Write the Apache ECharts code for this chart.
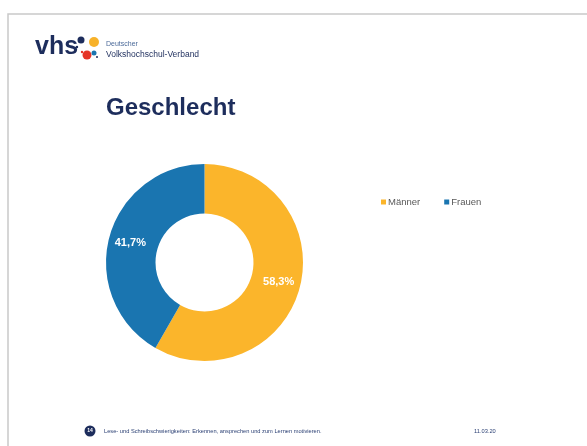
<!DOCTYPE html>
<html>
<head>
  <meta charset="utf-8">
  <title>Geschlecht</title>
  <script src="https://cdn.jsdelivr.net/npm/echarts@6/dist/echarts.min.js"></script>
  <style>
    html, body { margin: 0; padding: 0; background: #fff; }
  </style>
</head>
<body>
  <div id="main" style="width:587px;height:446px;"></div>
  <script type="text/javascript">
    var categories = ['Männer', 'Frauen'];
    var values = [58.3, 41.7];
    var colors = ['#FBB52B', '#1A75B0'];
    var footerText = 'Lese- und Schreibschwierigkeiten: Erkennen, ansprechen und zum Lernen motivieren.';
    var footerDate = '11.03.20';
    var pageNo = '14';

    var navy = '#1d2d5c';
    var myChart = echarts.init(document.getElementById('main'));

    var data = categories.map(function (name, i) {
      return { name: name, value: values[i], itemStyle: { color: colors[i] } };
    });

    var option = {
      backgroundColor: '#fff',
      animation: false,
      title: {
        text: 'Geschlecht',
        left: 106,
        top: 96,
        padding: 0,
        textStyle: {
          fontFamily: 'Liberation Sans, Arial, sans-serif',
          fontSize: 24,
          fontWeight: 'bold',
          color: navy
        }
      },
      legend: {
        left: 376,
        top: 192,
        itemWidth: 5,
        itemHeight: 5,
        itemGap: 24,
        icon: 'rect',
        data: categories,
        textStyle: {
          fontFamily: 'Liberation Sans, Arial, sans-serif',
          fontSize: 9.5,
          color: '#595959',
          padding: [0, 0, 0, -3]
        }
      },
      series: [{
        type: 'pie',
        center: [204.5, 262.5],
        radius: [49, 98.5],
        startAngle: 90,
        clockwise: true,
        data: data,
        itemStyle: { borderWidth: 0 },
        label: {
          position: 'inside',
          color: '#fff',
          fontFamily: 'Liberation Sans, Arial, sans-serif',
          fontWeight: 'bold',
          fontSize: 11,
          formatter: function (p) {
            return p.value.toFixed(1).replace('.', ',') + '%';
          }
        },
        labelLine: { show: false },
        emphasis: { disabled: true }
      }],
      graphic: [
        // slide frame
        { type: 'polyline', silent: true, shape: { points: [[8, 446], [8, 14], [587, 14]] },
          style: { stroke: '#c9c9c9', lineWidth: 1.5, fill: null } },
        // logo
        { type: 'text', left: 35, top: 35,
          style: { text: 'vhs', font: 'bold 25px Liberation Sans, Arial, sans-serif', fill: navy } },
        { type: 'circle', shape: { cx: 81, cy: 40, r: 3.5 }, style: { fill: navy } },
        { type: 'circle', shape: { cx: 94, cy: 42, r: 5 }, style: { fill: '#F7B22A' } },
        { type: 'circle', shape: { cx: 87, cy: 55, r: 4.5 }, style: { fill: '#E53527' } },
        { type: 'circle', shape: { cx: 94, cy: 53, r: 2.5 }, style: { fill: '#1A75B0' } },
        { type: 'circle', shape: { cx: 77, cy: 47, r: 1.2 }, style: { fill: navy } },
        { type: 'circle', shape: { cx: 82, cy: 52, r: 1.2 }, style: { fill: '#E53527' } },
        { type: 'circle', shape: { cx: 97, cy: 57, r: 1 }, style: { fill: navy } },
        { type: 'text', x: 106, y: 44,
          style: { text: 'Deutscher', font: '7px Liberation Sans, Arial, sans-serif', fill: '#4d6b9a', textVerticalAlign: 'middle' } },
        { type: 'text', x: 106, y: 55,
          style: { text: 'Volkshochschul-Verband', font: '8.5px Liberation Sans, Arial, sans-serif', fill: navy, textVerticalAlign: 'middle' } },
        // footer
        { type: 'circle', shape: { cx: 90, cy: 431, r: 5.5 }, style: { fill: navy } },
        { type: 'text', x: 90, y: 431,
          style: { text: pageNo, font: 'bold 5px Liberation Sans, Arial, sans-serif', fill: '#fff', textAlign: 'center', textVerticalAlign: 'middle' } },
        { type: 'text', x: 104, y: 431,
          style: { text: footerText, font: '5.7px Liberation Sans, Arial, sans-serif', fill: '#2a3f73', textVerticalAlign: 'middle' } },
        { type: 'text', x: 474, y: 431,
          style: { text: footerDate, font: '5.7px Liberation Sans, Arial, sans-serif', fill: '#2a3f73', textVerticalAlign: 'middle' } }
      ]
    };

    myChart.setOption(option);
  </script>
</body>
</html>
